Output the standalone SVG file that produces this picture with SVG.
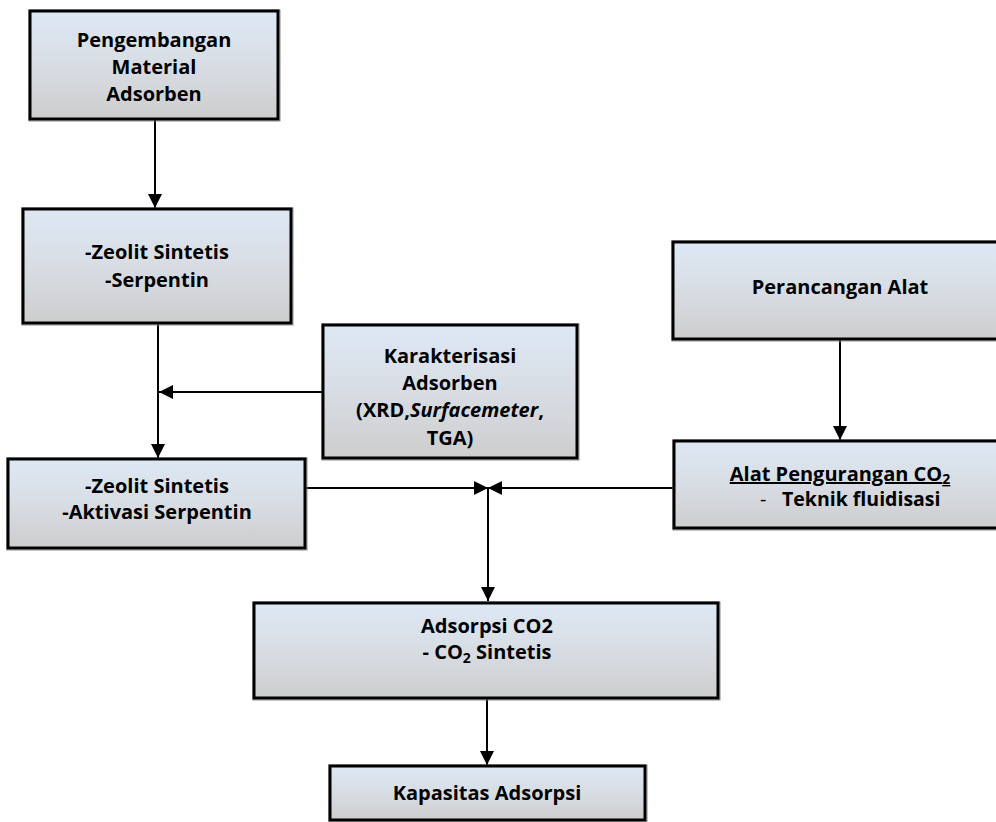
<svg xmlns="http://www.w3.org/2000/svg" width="996" height="822" viewBox="0 0 996 822">
<defs>
<linearGradient id="g" x1="0" y1="0" x2="0" y2="1">
<stop offset="0" stop-color="#dde8f4"/>
<stop offset="0.5" stop-color="#d8dde4"/>
<stop offset="1" stop-color="#cdcdcd"/>
</linearGradient>
<marker id="ah" viewBox="0 0 14 14" refX="14" refY="7" markerWidth="14" markerHeight="14" markerUnits="userSpaceOnUse" orient="auto">
<path d="M0,0 L14,7 L0,14 Z" fill="#000"/>
</marker>
<style>
.box{fill:url(#g);stroke:#000;stroke-width:3}
.sh{fill:none;stroke:#8a8a8a;stroke-width:1}
.t{font-family:"Segoe UI","Open Sans","Noto Sans",sans-serif;font-weight:bold;font-size:20px;fill:#000;text-anchor:middle}
.c{stroke:#000;stroke-width:2;fill:none;marker-end:url(#ah)}
.sub{font-size:14px}
</style>
</defs>
<rect width="996" height="822" fill="#fff"/>
<g id="connectors">
<line class="c" x1="155" y1="120" x2="155" y2="208"/>
<line class="c" x1="158" y1="323" x2="158" y2="458"/>
<line class="c" x1="323" y1="392" x2="159" y2="392"/>
<line class="c" x1="305" y1="488" x2="488" y2="488"/>
<line class="c" x1="674" y1="488" x2="488" y2="488"/>
<line class="c" x1="488" y1="488" x2="488" y2="601"/>
<line class="c" x1="840" y1="339" x2="840" y2="440"/>
<line class="c" x1="487" y1="698" x2="487" y2="765"/>
</g>
<g id="n1">
<rect class="sh" x="29" y="10" width="251" height="111"/>
<rect class="box" x="30" y="11" width="248" height="108"/>
<text class="t" x="154" y="47">Pengembangan</text>
<text class="t" x="154" y="74">Material</text>
<text class="t" x="154" y="101">Adsorben</text>
</g>
<g id="n2">
<rect class="sh" x="22" y="208" width="271" height="117"/>
<rect class="box" x="23" y="209" width="268" height="114"/>
<text class="t" x="157" y="259">-Zeolit Sintetis</text>
<text class="t" x="157" y="287">-Serpentin</text>
</g>
<g id="n3">
<rect class="sh" x="322" y="324" width="257" height="136"/>
<rect class="box" x="323" y="325" width="254" height="133"/>
<text class="t" x="450" y="363">Karakterisasi</text>
<text class="t" x="450" y="390">Adsorben</text>
<text class="t" x="450" y="417">(XRD,<tspan font-style="italic">Surfacemeter</tspan>,</text>
<text class="t" x="450" y="445">TGA)</text>
</g>
<g id="n4">
<rect class="sh" x="7" y="458" width="300" height="92"/>
<rect class="box" x="8" y="459" width="297" height="89"/>
<text class="t" x="157" y="493">-Zeolit Sintetis</text>
<text class="t" x="157" y="519">-Aktivasi Serpentin</text>
</g>
<g id="n5">
<rect class="sh" x="672" y="241" width="340" height="100"/>
<rect class="box" x="673" y="242" width="337" height="97"/>
<text class="t" x="840" y="294">Perancangan Alat</text>
</g>
<g id="n6">
<rect class="sh" x="673" y="440" width="340" height="90"/>
<rect class="box" x="674" y="441" width="337" height="87"/>
<text class="t" x="840" y="481" text-decoration="underline">Alat Pengurangan CO<tspan class="sub" dy="3">2</tspan></text>
<text class="t" x="760" y="506" style="text-anchor:start;font-weight:normal">-</text>
<text class="t" x="782" y="506" style="text-anchor:start;font-size:19.5px">Teknik fluidisasi</text>
</g>
<g id="n7">
<rect class="sh" x="253" y="602" width="467" height="98"/>
<rect class="box" x="254" y="603" width="464" height="95"/>
<text class="t" x="487" y="633">Adsorpsi CO2</text>
<text class="t" x="487" y="659">- CO<tspan class="sub" dy="4">2</tspan><tspan dy="-4"> Sintetis</tspan></text>
</g>
<g id="n8">
<rect class="sh" x="329" y="765" width="318" height="57"/>
<rect class="box" x="330" y="766" width="315" height="54"/>
<text class="t" x="487" y="800">Kapasitas Adsorpsi</text>
</g>
</svg>
